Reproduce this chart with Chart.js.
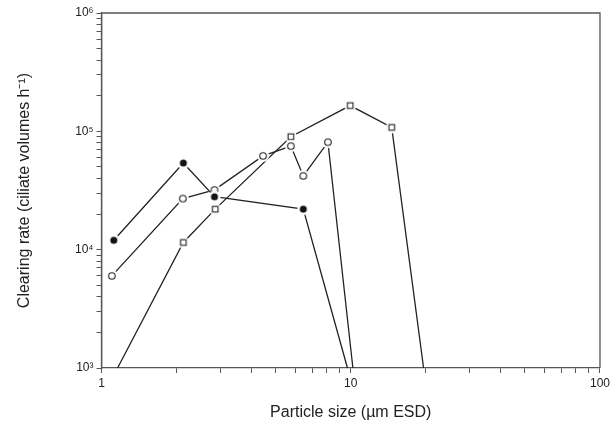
<!DOCTYPE html>
<html>
<head>
<meta charset="utf-8">
<script src="https://cdn.jsdelivr.net/npm/chart.js@4/dist/chart.umd.min.js"></script>
<style>
  html, body { margin: 0; padding: 0; background: #fff; }
  #wrap { width: 613px; height: 429px; }
</style>
</head>
<body>
<div id="wrap"><canvas id="chart" width="613" height="429"></canvas></div>
<script>
// particle size (um ESD) and clearing rate (ciliate volumes per h)
// points sitting on the 10^3 axis are the zero / below-range values
const filledX = [1.12, 2.13, 2.84, 6.45, 9.7];
const filledY = [12000, 54000, 28000, 22000, 1000];

const openX = [1.10, 2.12, 2.84, 4.45, 5.75, 6.45, 8.1, 10.2];
const openY = [6000, 27000, 32000, 62000, 75000, 42000, 81000, 1000];

const squareX = [1.16, 2.13, 2.86, 5.75, 9.95, 14.6, 19.6];
const squareY = [1000, 11500, 22000, 90000, 165000, 108000, 1000];

const xMajor = [1, 10, 100];
const xTickLabels = ['1', '10', '100'];
const yMajor = [1e3, 1e4, 1e5, 1e6];
const yTickLabels = ['10\u00b3', '10\u2074', '10\u2075', '10\u2076'];

function pts(xs, ys) { return xs.map((x, i) => ({ x: x, y: ys[i] })); }

// marker with a white halo so the lines stop short of it
function marker(kind) {
  const c = document.createElement('canvas');
  c.width = 14; c.height = 14;
  const g = c.getContext('2d');
  g.fillStyle = '#fff';
  g.beginPath(); g.arc(7, 7, 6, 0, Math.PI * 2); g.fill();
  g.strokeStyle = '#222'; g.lineWidth = 1.1;
  if (kind === 'filled') {
    g.fillStyle = '#111';
    g.beginPath(); g.arc(7, 7, 3.5, 0, Math.PI * 2); g.fill();
  } else if (kind === 'open') {
    g.beginPath(); g.arc(7, 7, 3.3, 0, Math.PI * 2); g.stroke();
  } else {
    g.strokeRect(4.2, 4.2, 5.6, 5.6);
  }
  return c;
}

function minorTicks(majors) {
  const out = [];
  for (let i = 0; i < majors.length; i++) {
    out.push({ value: majors[i] });
    if (i < majors.length - 1) for (let k = 2; k <= 9; k++) out.push({ value: majors[i] * k });
  }
  return out;
}

const hideOnAxis = ctx => (ctx.raw && ctx.raw.y <= 1000 ? 0 : 4);

function series(xs, ys, kind) {
  return {
    data: pts(xs, ys),
    borderColor: '#222',
    borderWidth: 1.3,
    pointStyle: marker(kind),
    pointRadius: hideOnAxis,
    pointHoverRadius: hideOnAxis,
    tension: 0,
    clip: false
  };
}

const frame = {
  id: 'frame',
  afterDraw(chart) {
    const a = chart.chartArea, g = chart.ctx;
    g.save();
    g.strokeStyle = '#555'; g.lineWidth = 1.3;
    g.beginPath();
    g.moveTo(a.left, a.bottom); g.lineTo(a.left, a.top); g.lineTo(a.right, a.top); g.lineTo(a.right, a.bottom);
    g.stroke();
    g.restore();
  }
};

const tickFont = { family: 'Liberation Sans, Arial, sans-serif', size: 12 };
const titleFont = { family: 'Liberation Sans, Arial, sans-serif', size: 16 };

new Chart(document.getElementById('chart').getContext('2d'), {
  type: 'line',
  data: { datasets: [series(filledX, filledY, 'filled'), series(openX, openY, 'open'), series(squareX, squareY, 'square')] },
  options: {
    responsive: false,
    animation: false,
    events: [],
    layout: { padding: { left: 0, right: 11, top: 13, bottom: 0 } },
    plugins: { legend: { display: false }, tooltip: { enabled: false } },
    scales: {
      x: {
        type: 'logarithmic', min: 1, max: 100,
        afterBuildTicks: s => { s.ticks = minorTicks(xMajor); },
        afterFit: s => { s.height = 61; },
        border: { color: '#555', width: 1.3 },
        grid: { drawOnChartArea: false, drawTicks: true, tickLength: 5, color: '#555', tickWidth: 1 },
        ticks: {
          autoSkip: false, maxRotation: 0, color: '#222', font: tickFont, padding: 3,
          callback: v => { const i = xMajor.indexOf(v); return i >= 0 ? xTickLabels[i] : ''; }
        },
        title: { display: true, text: 'Particle size (\u00b5m ESD)', color: '#222', font: titleFont, padding: { top: 0, bottom: 7 } }
      },
      y: {
        type: 'logarithmic', min: 1000, max: 1e6,
        afterBuildTicks: s => { s.ticks = minorTicks(yMajor); },
        afterFit: s => { s.width = 101.5; },
        border: { color: '#555', width: 1.3 },
        grid: { drawOnChartArea: false, drawTicks: true, tickLength: 5, color: '#555', tickWidth: 1 },
        ticks: {
          autoSkip: false, color: '#222', font: tickFont, padding: 3,
          callback: v => { const i = yMajor.indexOf(v); return i >= 0 ? yTickLabels[i] : ''; }
        },
        title: { display: true, text: 'Clearing rate (ciliate volumes h\u207b\u00b9)', color: '#222', font: titleFont, padding: { top: 15, bottom: 0 } }
      }
    }
  },
  plugins: [frame]
});
</script>
</body>
</html>
